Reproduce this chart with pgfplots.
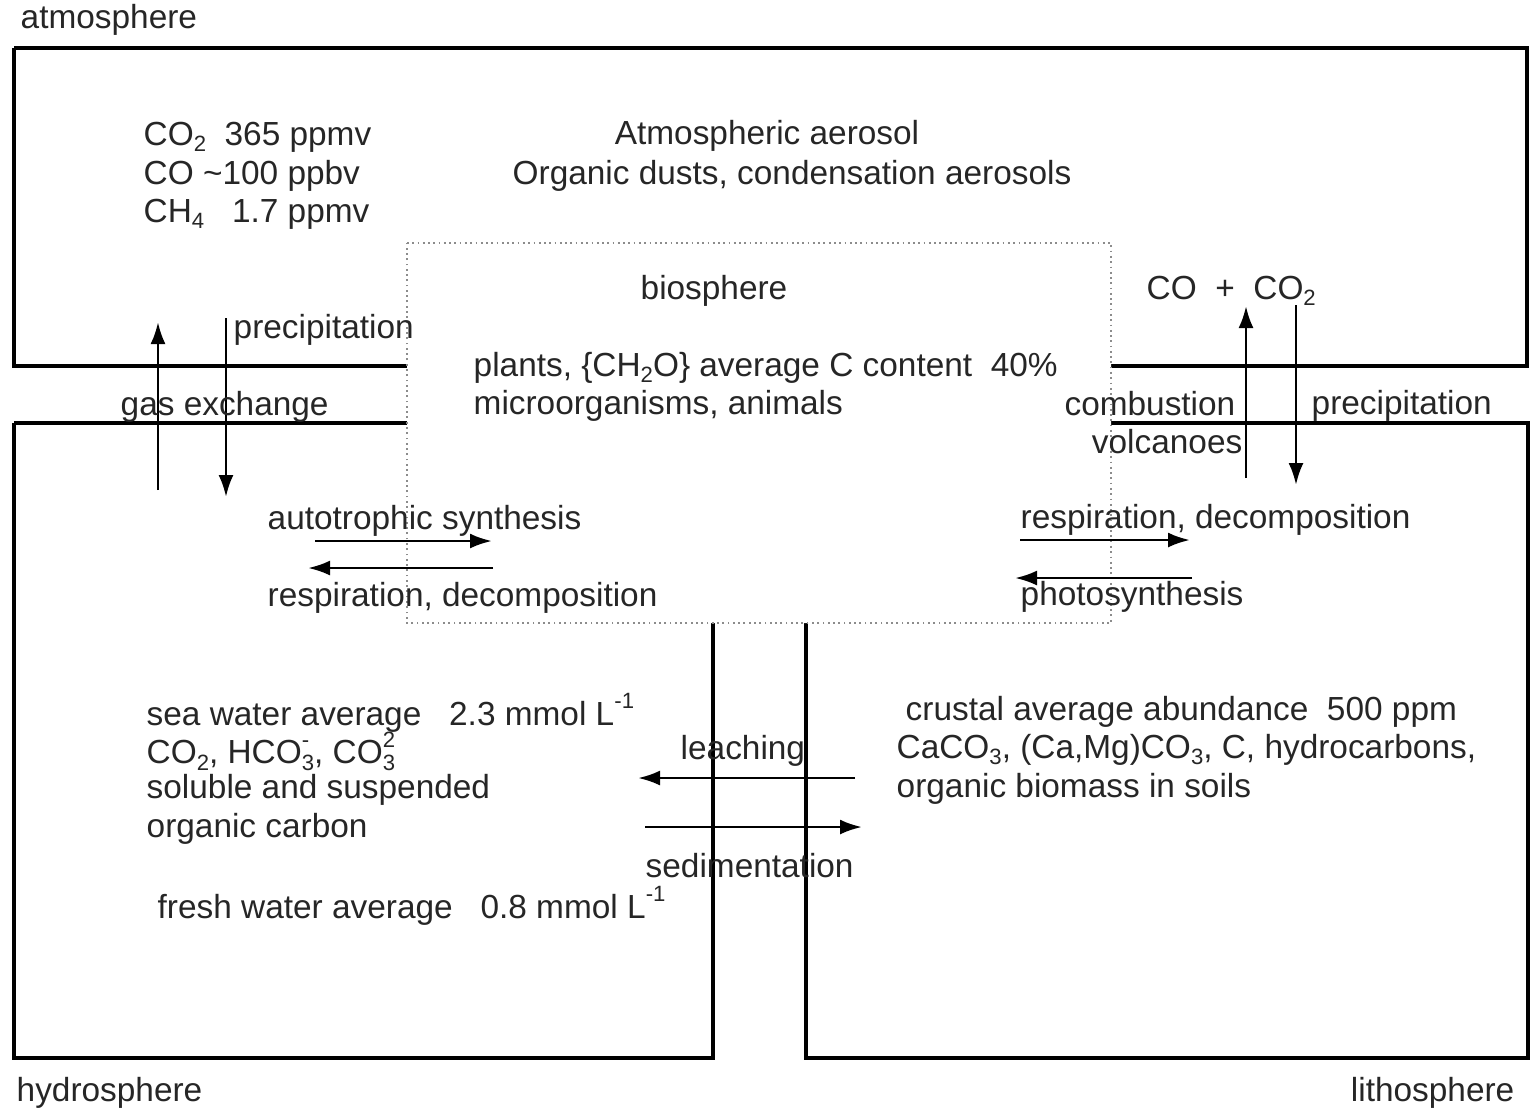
\documentclass[border=0pt]{standalone}
\usepackage{pgfplots}
\pgfplotsset{compat=1.18}
\usetikzlibrary{arrows.meta}
\usepackage{fontspec}
\setmainfont{Liberation Sans}
\newcommand{\smallfs}{\fontsize{6.3}{7}\selectfont}
\newcommand{\sub}[1]{\raisebox{-0.35ex}{\smallfs #1}}
\newcommand{\sups}[1]{\raisebox{0.95ex}{\smallfs #1}}
\newcommand{\subsup}[2]{\makebox[0pt][l]{\sups{#2}}\sub{#1}}
\tikzset{lbl/.style={inner sep=0pt, font=\fontsize{9.5}{11.1}\selectfont, text=black!85}}
\begin{document}
\begin{tikzpicture}
\begin{axis}[scale only axis, width=15.3cm, height=11.1cm,
  xmin=0, xmax=1530, ymin=0, ymax=1110, y dir=reverse,
  axis lines=none, clip=false]
\path (axis cs:0,0) rectangle (axis cs:1530,1110);
% boxes
\addplot[black, line width=0.9pt] coordinates {(14,48) (1527,48) (1527,366) (14,366) (14,48)};
\addplot[black, line width=0.9pt] coordinates {(14,423) (713,423) (713,1058) (14,1058) (14,423)};
\addplot[black, line width=0.9pt] coordinates {(806,423) (1528,423) (1528,1058) (806,1058) (806,423)};
% biosphere
\addplot[draw=black!45, densely dotted, line width=0.5pt, fill=white] coordinates {(407,243) (1111,243) (1111,623) (407,623) (407,243)};
% arrows
\tikzset{arr/.style={black, line width=0.8pt, -{Latex[length=2.2mm,width=1.5mm]}}}
\addplot[arr] coordinates {(158,490) (158,322)};
\addplot[arr] coordinates {(226,318) (226,497)};
\addplot[arr] coordinates {(1246,478) (1246,306)};
\addplot[arr] coordinates {(1296,305) (1296,485)};
\addplot[arr] coordinates {(315,541) (492,541)};
\addplot[arr] coordinates {(493,568) (308,568)};
\addplot[arr] coordinates {(1020,540) (1190,540)};
\addplot[arr] coordinates {(1192,578) (1015,578)};
\addplot[arr] coordinates {(855,778) (638,778)};
\addplot[arr] coordinates {(645,827) (862,827)};
% texts
\node[lbl, anchor=west] at (axis cs:20,20) {atmosphere};
\node[lbl, anchor=west] at (axis cs:143,137) {CO\sub{2}\ \ 365 ppmv};
\node[lbl, anchor=west] at (axis cs:143,176) {CO \textasciitilde100 ppbv};
\node[lbl, anchor=west] at (axis cs:143,214) {CH\sub{4}\ \ \ 1.7 ppmv};
\node[lbl] at (axis cs:767,136) {Atmospheric aerosol};
\node[lbl] at (axis cs:792,176) {Organic dusts, condensation aerosols};
\node[lbl] at (axis cs:714,291) {biosphere};
\node[lbl, anchor=west] at (axis cs:473,368) {plants, \{CH\sub{2}O\} average C content\ \ 40\%};
\node[lbl, anchor=west] at (axis cs:473,406) {microorganisms, animals};
\node[lbl, anchor=west] at (axis cs:233,330) {precipitation};
\node[lbl, anchor=west] at (axis cs:120,407) {gas exchange};
\node[lbl, anchor=west] at (axis cs:1146,291) {CO\ \ +\ \ CO\sub{2}};
\node[lbl, anchor=east] at (axis cs:1236,404) {combustion};
\node[lbl, anchor=east] at (axis cs:1243,442) {volcanoes};
\node[lbl, anchor=west] at (axis cs:1311,406) {precipitation};
\node[lbl, anchor=west] at (axis cs:267,521) {autotrophic synthesis};
\node[lbl, anchor=west] at (axis cs:267,598) {respiration, decomposition};
\node[lbl, anchor=west] at (axis cs:1020,520) {respiration, decomposition};
\node[lbl, anchor=west] at (axis cs:1020,597) {photosynthesis};
\node[lbl, anchor=west] at (axis cs:146,713) {sea water average\ \ \ 2.3 mmol L\sups{-1}};
\node[lbl, anchor=west] at (axis cs:146,751) {CO\sub{2}, HCO\subsup{3}{-}, CO\subsup{3}{2}};
\node[lbl, anchor=west] at (axis cs:146,790) {soluble and suspended};
\node[lbl, anchor=west] at (axis cs:146,829) {organic carbon};
\node[lbl, anchor=west] at (axis cs:157,906) {fresh water average\ \ \ 0.8 mmol L\sups{-1}};
\node[lbl, anchor=west] at (axis cs:680,751) {leaching};
\node[lbl, anchor=west] at (axis cs:645,866) {sedimentation};
\node[lbl, anchor=west] at (axis cs:905,712) {crustal average abundance\ \ 500 ppm};
\node[lbl, anchor=west] at (axis cs:896,750) {CaCO\sub{3}, (Ca,Mg)CO\sub{3}, C, hydrocarbons,};
\node[lbl, anchor=west] at (axis cs:896,789) {organic biomass in soils};
\node[lbl, anchor=west] at (axis cs:16,1093) {hydrosphere};
\node[lbl, anchor=east] at (axis cs:1515,1093) {lithosphere};
\end{axis}
\end{tikzpicture}
\end{document}
